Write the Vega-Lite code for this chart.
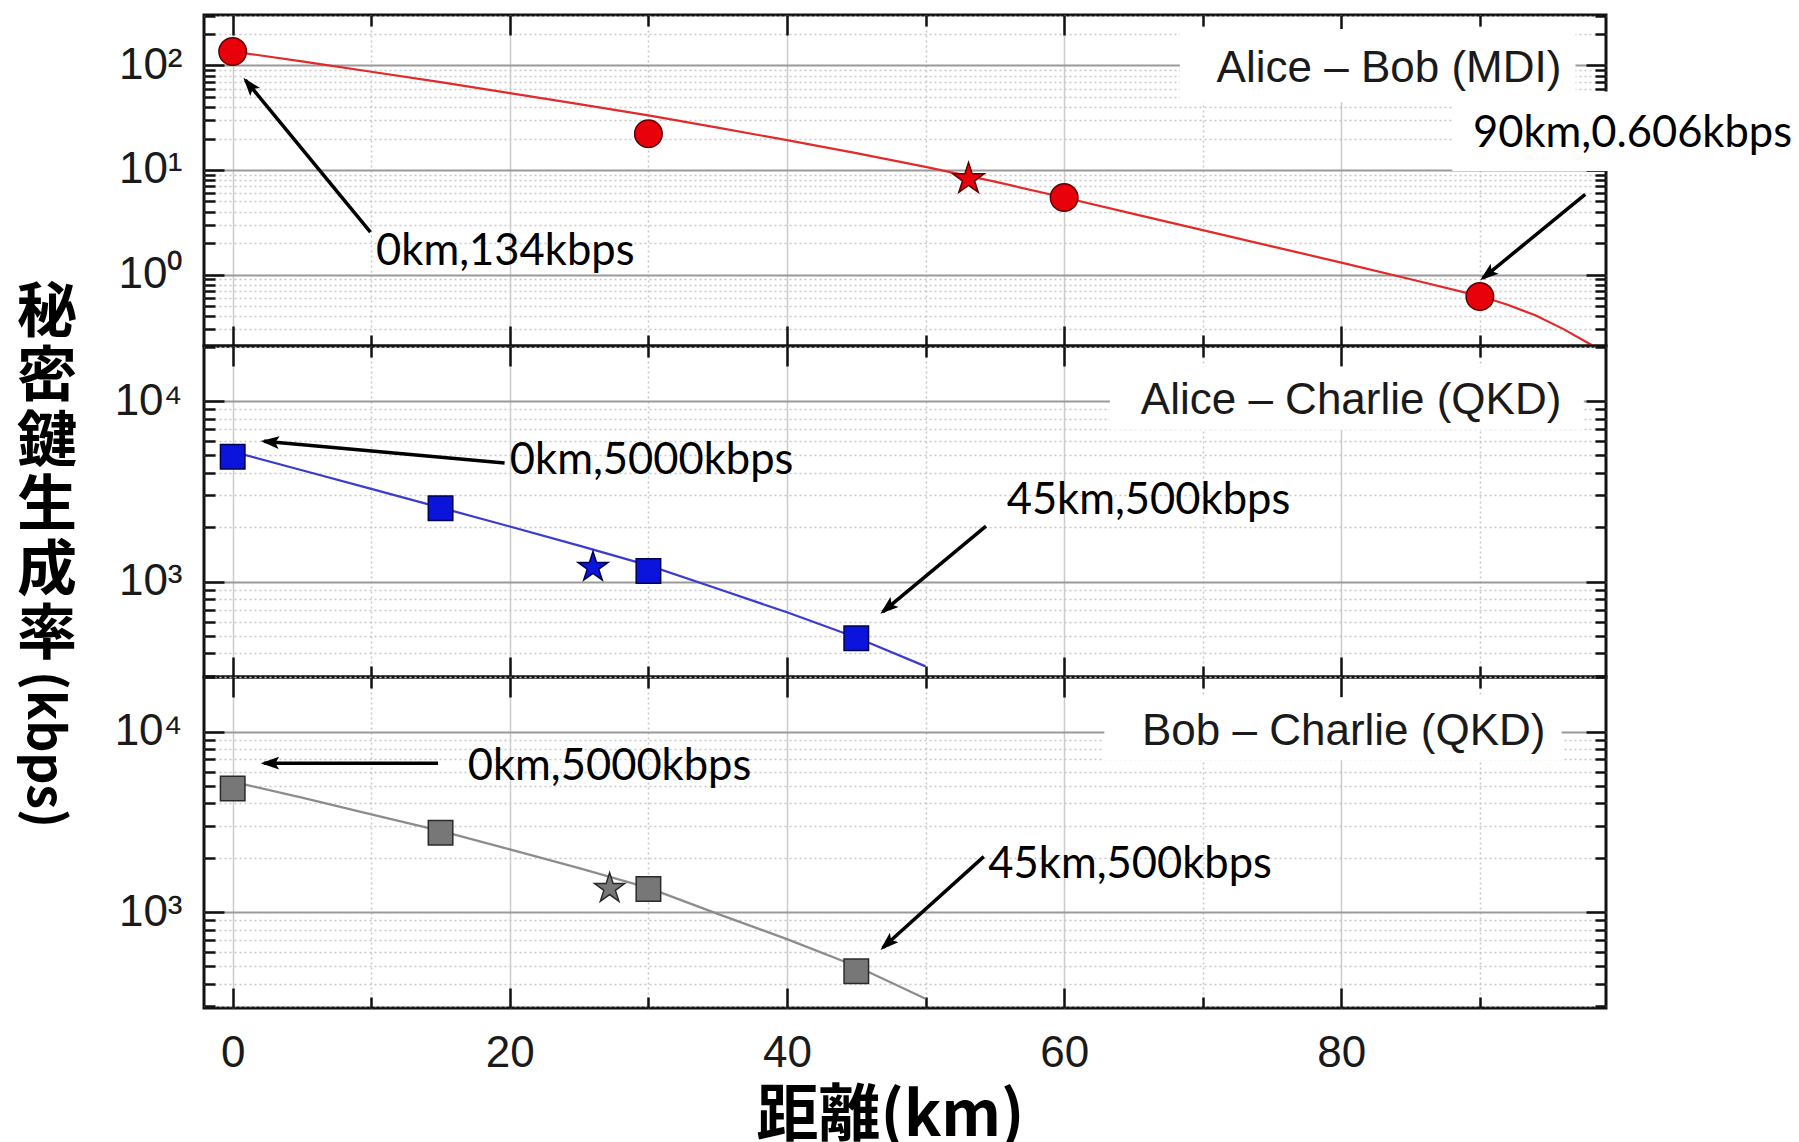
{
  "$schema": "https://vega.github.io/schema/vega-lite/v6.json",
  "background": "white",
  "padding": {"left": 15, "top": 12, "right": 0, "bottom": 0},
  "spacing": 0,
  "bounds": "flush",
  "resolve": {"scale": {"shape": "independent", "size": "independent"}},
  "config": {
    "view": {"stroke": "#111111", "strokeWidth": 3},
    "axis": {"labelFont": "Liberation Sans", "labelColor": "#1a1a1a", "labelOverlap": false, "labelFlush": false, "labelBound": false, "domain": false, "tickColor": "#111111", "tickWidth": 2.5}
  },
  "datasets": {
    "lineA": [
      {"d": 0, "r": 136.1}, {"d": 5, "r": 109.6}, {"d": 10, "r": 87.1}, {"d": 15, "r": 69.2}, {"d": 20, "r": 54.3},
      {"d": 25, "r": 42.7}, {"d": 30, "r": 33.3}, {"d": 35, "r": 25.4}, {"d": 40, "r": 19.3}, {"d": 45, "r": 14.5},
      {"d": 50, "r": 10.7}, {"d": 55, "r": 7.73}, {"d": 60, "r": 5.45}, {"d": 65, "r": 3.8}, {"d": 70, "r": 2.66},
      {"d": 75, "r": 1.86}, {"d": 80, "r": 1.3}, {"d": 85, "r": 0.9}, {"d": 90, "r": 0.622}, {"d": 92, "r": 0.513},
      {"d": 94, "r": 0.407}, {"d": 96, "r": 0.302}, {"d": 98, "r": 0.214}, {"d": 99, "r": 0.174}
    ],
    "lineB": [
      {"d": 0, "r": 5250}, {"d": 5, "r": 4140}, {"d": 10, "r": 3266}, {"d": 15, "r": 2570}, {"d": 20, "r": 2018},
      {"d": 25, "r": 1581}, {"d": 30, "r": 1230}, {"d": 35, "r": 912}, {"d": 40, "r": 676}, {"d": 45, "r": 490}, {"d": 50, "r": 339}
    ],
    "lineC": [
      {"d": 0, "r": 5280}, {"d": 5, "r": 4300}, {"d": 10, "r": 3475}, {"d": 15, "r": 2818}, {"d": 20, "r": 2223},
      {"d": 25, "r": 1750}, {"d": 30, "r": 1361}, {"d": 35, "r": 977}, {"d": 40, "r": 708}, {"d": 45, "r": 501}, {"d": 50, "r": 331}
    ],
    "ptsA": [
      {"d": 0, "r": 136, "kind": "meas"}, {"d": 30, "r": 22.2, "kind": "meas"}, {"d": 60, "r": 5.46, "kind": "meas"},
      {"d": 90, "r": 0.615, "kind": "meas"}, {"d": 53.1, "r": 8.2, "kind": "star"}
    ],
    "ptsB": [
      {"d": 0, "r": 4920, "kind": "meas"}, {"d": 15, "r": 2550, "kind": "meas"}, {"d": 30, "r": 1146, "kind": "meas"},
      {"d": 45, "r": 485, "kind": "meas"}, {"d": 26.0, "r": 1200, "kind": "star"}
    ],
    "ptsC": [
      {"d": 0, "r": 4840, "kind": "meas"}, {"d": 15, "r": 2750, "kind": "meas"}, {"d": 30, "r": 1340, "kind": "meas"},
      {"d": 45, "r": 470, "kind": "meas"}, {"d": 27.2, "r": 1350, "kind": "star"}
    ],
    "boxA": [{"x0": 68.35, "x1": 96.9, "y0": 44.4, "y1": 223}, {"x0": 88.0, "x1": 112.9, "y0": 9.8, "y1": 56.5}],
    "boxB": [{"x0": 63.3, "x1": 97.5, "y0": 6930, "y1": 15500}],
    "boxC": [{"x0": 62.9, "x1": 95.9, "y0": 6930, "y1": 15500}],
    "annA": [{"x": 10.35, "y": 1.65, "t": "0km,134kbps"}, {"x": 89.5, "y": 22.3, "t": "90km,0.606kbps"}],
    "annB": [{"x": 20.0, "y": 4677, "t": "0km,5000kbps"}, {"x": 55.85, "y": 2804, "t": "45km,500kbps"}],
    "annC": [{"x": 16.96, "y": 6396, "t": "0km,5000kbps"}, {"x": 54.53, "y": 1830, "t": "45km,500kbps"}],
    "legA": [{"x": 95.88, "y": 93, "t": "Alice – Bob (MDI)"}],
    "legB": [{"x": 95.88, "y": 10000, "t": "Alice – Charlie (QKD)"}],
    "legC": [{"x": 94.73, "y": 10000, "t": "Bob – Charlie (QKD)"}],
    "arrA": [{"x0": 9.94, "y0": 2.54, "x1": 0.92, "y1": 72.3, "ang": 320.5}, {"x0": 97.6, "y0": 5.83, "x1": 90.2, "y1": 0.92, "ang": 231.3}],
    "arrB": [{"x0": 19.62, "y0": 4540, "x1": 2.25, "y1": 5998, "ang": 275.2}, {"x0": 54.36, "y0": 2031, "x1": 46.91, "y1": 680, "ang": 230.2}],
    "arrC": [{"x0": 14.82, "y0": 6683, "x1": 2.25, "y1": 6683, "ang": 270}, {"x0": 54.2, "y0": 2028, "x1": 46.91, "y1": 634, "ang": 227.7}]
  },
  "vconcat": [
    {
      "width": 1402, "height": 331,
      "resolve": {"axis": {"x": "independent", "y": "independent"}},
      "layer": [
        {"data": {"name": "boxA"}, "mark": {"type": "rect", "fill": "white", "strokeWidth": 0},
         "encoding": {"x": {"field": "x0", "type": "quantitative", "scale": {"domain": [-2.07, 99.1], "nice": false, "zero": false},
                            "axis": {"orient": "bottom", "values": [10,30,50,70,90], "labels": false, "tickSize": -11, "grid": true, "gridColor": "#c8c8c8", "gridDash": [2, 3], "gridWidth": 1.5, "title": null}},
                      "x2": {"field": "x1"},
                      "y": {"field": "y0", "type": "quantitative", "scale": {"type": "log", "domain": [0.207, 304], "nice": false},
                            "axis": {"orient": "left", "values": [0.3,0.4,0.5,0.6,0.7,0.8,0.9,2,3,4,5,6,7,8,9,20,30,40,50,60,70,80,90,200,300], "labels": false, "tickSize": -11, "grid": true, "gridColor": "#c8c8c8", "gridDash": [2, 3], "gridWidth": 1.5, "title": null}},
                      "y2": {"field": "y1"}}},
        {"data": {"name": "lineA"}, "mark": {"type": "line", "color": "#e22a2a", "strokeWidth": 2.2, "clip": true},
         "encoding": {
           "x": {"field": "d", "type": "quantitative", "scale": {"domain": [-2.07, 99.1], "nice": false, "zero": false},
                 "axis": {"orient": "bottom", "values": [0,20,40,60,80], "labels": false, "tickSize": -20, "grid": true, "gridColor": "#cccccc", "gridWidth": 1.5, "title": null}},
           "y": {"field": "r", "type": "quantitative", "scale": {"type": "log", "domain": [0.207, 304], "nice": false},
                 "axis": {"orient": "left", "values": [1, 10, 100], "labelExpr": "datum.value == 1 ? '10⁰' : datum.value == 10 ? '10¹' : '10²'",
                          "labelFontSize": 44, "labelPadding": 42, "tickSize": -20, "grid": true, "gridColor": "#9a9a9a", "gridWidth": 2, "title": null}}}},
        {"data": {"name": "ptsA"}, "mark": {"type": "point", "filled": true, "fill": "#e8000b", "stroke": "#5c0000", "strokeWidth": 1.5, "opacity": 1},
         "encoding": {
           "x": {"field": "d", "type": "quantitative", "scale": {"domain": [-2.07, 99.1], "nice": false, "zero": false},
                 "axis": {"orient": "top", "values": [0,20,40,60,80], "labels": false, "grid": false, "tickSize": -20, "title": null}},
           "y": {"field": "r", "type": "quantitative", "scale": {"type": "log", "domain": [0.207, 304], "nice": false},
                 "axis": {"orient": "right", "values": [1, 10, 100], "labels": false, "grid": false, "tickSize": -20, "title": null}},
           "shape": {"field": "kind", "type": "nominal", "scale": {"domain": ["meas", "star"], "range": ["circle", "M0,-1L0.2245,-0.309L0.951,-0.309L0.3633,0.118L0.588,0.809L0,0.382L-0.588,0.809L-0.3633,0.118L-0.951,-0.309L-0.2245,-0.309Z"]}, "legend": null},
           "size": {"field": "kind", "type": "nominal", "scale": {"domain": ["meas", "star"], "range": [760, 1100]}, "legend": null}}},
        {"data": {"name": "annA"}, "mark": {"type": "text", "font": "Lato", "fontSize": 43.5, "align": "left", "baseline": "middle", "color": "#000"},
         "encoding": {"x": {"field": "x", "type": "quantitative", "scale": {"domain": [-2.07, 99.1], "nice": false, "zero": false},
                            "axis": {"orient": "top", "values": [10,30,50,70,90], "labels": false, "grid": false, "tickSize": -11, "title": null}},
                      "y": {"field": "y", "type": "quantitative", "scale": {"type": "log", "domain": [0.207, 304], "nice": false},
                            "axis": {"orient": "right", "values": [0.3,0.4,0.5,0.6,0.7,0.8,0.9,2,3,4,5,6,7,8,9,20,30,40,50,60,70,80,90,200,300], "labels": false, "grid": false, "tickSize": -11, "title": null}},
                      "text": {"field": "t"}}},
        {"data": {"name": "legA"}, "mark": {"type": "text", "font": "Liberation Sans", "fontSize": 44, "align": "right", "baseline": "middle", "color": "#1a1a1a"},
         "encoding": {"x": {"field": "x", "type": "quantitative", "scale": {"domain": [-2.07, 99.1], "nice": false, "zero": false}, "axis": null},
                      "y": {"field": "y", "type": "quantitative", "scale": {"type": "log", "domain": [0.207, 304], "nice": false}, "axis": null}, "text": {"field": "t"}}},
        {"data": {"name": "arrA"}, "mark": {"type": "rule", "color": "#000", "strokeWidth": 3.5},
         "encoding": {"x": {"field": "x0", "type": "quantitative", "scale": {"domain": [-2.07, 99.1], "nice": false, "zero": false}, "axis": null}, "x2": {"field": "x1"},
                      "y": {"field": "y0", "type": "quantitative", "scale": {"type": "log", "domain": [0.207, 304], "nice": false}, "axis": null}, "y2": {"field": "y1"}}},
        {"data": {"name": "arrA"}, "mark": {"type": "point", "shape": "M0,-0.25L-0.5,1.2L0,0.9L0.5,1.2Z", "filled": true, "color": "#000", "size": 650, "opacity": 1},
         "encoding": {"x": {"field": "x1", "type": "quantitative", "scale": {"domain": [-2.07, 99.1], "nice": false, "zero": false}, "axis": null},
                      "y": {"field": "y1", "type": "quantitative", "scale": {"type": "log", "domain": [0.207, 304], "nice": false}, "axis": null},
                      "angle": {"field": "ang", "type": "quantitative", "scale": null}}}
      ]
    },
    {
      "width": 1402, "height": 331,
      "resolve": {"axis": {"x": "independent", "y": "independent"}},
      "layer": [
        {"data": {"name": "boxB"}, "mark": {"type": "rect", "fill": "white", "strokeWidth": 0},
         "encoding": {"x": {"field": "x0", "type": "quantitative", "scale": {"domain": [-2.07, 99.1], "nice": false, "zero": false},
                            "axis": {"orient": "bottom", "values": [10,30,50,70,90], "labels": false, "tickSize": -11, "grid": true, "gridColor": "#c8c8c8", "gridDash": [2, 3], "gridWidth": 1.5, "title": null}},
                      "x2": {"field": "x1"},
                      "y": {"field": "y0", "type": "quantitative", "scale": {"type": "log", "domain": [296, 20200], "nice": false},
                            "axis": {"orient": "left", "values": [300,400,500,600,700,800,900,2000,3000,4000,5000,6000,7000,8000,9000,20000], "labels": false, "tickSize": -11, "grid": true, "gridColor": "#c8c8c8", "gridDash": [2, 3], "gridWidth": 1.5, "title": null}},
                      "y2": {"field": "y1"}}},
        {"data": {"name": "lineB"}, "mark": {"type": "line", "color": "#3b3bd0", "strokeWidth": 2.2, "clip": true},
         "encoding": {
           "x": {"field": "d", "type": "quantitative", "scale": {"domain": [-2.07, 99.1], "nice": false, "zero": false},
                 "axis": {"orient": "bottom", "values": [0,20,40,60,80], "labels": false, "tickSize": -20, "grid": true, "gridColor": "#cccccc", "gridWidth": 1.5, "title": null}},
           "y": {"field": "r", "type": "quantitative", "scale": {"type": "log", "domain": [296, 20200], "nice": false},
                 "axis": {"orient": "left", "values": [1000, 10000], "labelExpr": "datum.value == 1000 ? '10³' : '10⁴'",
                          "labelFontSize": 44, "labelPadding": 42, "tickSize": -20, "grid": true, "gridColor": "#9a9a9a", "gridWidth": 2,
                          "title": ["秘", "密", "鍵", "生", "成", "率"], "titleAngle": 0, "titleFont": "Noto Sans CJK JP", "titleFontWeight": "bold", "titleFontSize": 60,
                          "titleLineHeight": 64.5, "titleColor": "#000", "titleAlign": "center", "titleBaseline": "middle", "titleX": -157.5, "titleY": -33}}}},
        {"data": {"name": "ptsB"}, "mark": {"type": "point", "filled": true, "fill": "#0a14dc", "stroke": "#000050", "strokeWidth": 1.5, "opacity": 1},
         "encoding": {
           "x": {"field": "d", "type": "quantitative", "scale": {"domain": [-2.07, 99.1], "nice": false, "zero": false},
                 "axis": {"orient": "top", "values": [0,20,40,60,80], "labels": false, "grid": false, "tickSize": -20, "title": null}},
           "y": {"field": "r", "type": "quantitative", "scale": {"type": "log", "domain": [296, 20200], "nice": false},
                 "axis": {"orient": "right", "values": [1000, 10000], "labels": false, "grid": false, "tickSize": -20, "title": null}},
           "shape": {"field": "kind", "type": "nominal", "scale": {"domain": ["meas", "star"], "range": ["square", "M0,-1L0.2245,-0.309L0.951,-0.309L0.3633,0.118L0.588,0.809L0,0.382L-0.588,0.809L-0.3633,0.118L-0.951,-0.309L-0.2245,-0.309Z"]}, "legend": null},
           "size": {"field": "kind", "type": "nominal", "scale": {"domain": ["meas", "star"], "range": [600, 1000]}, "legend": null}}},
        {"data": {"name": "annB"}, "mark": {"type": "text", "font": "Lato", "fontSize": 43.5, "align": "left", "baseline": "middle", "color": "#000"},
         "encoding": {"x": {"field": "x", "type": "quantitative", "scale": {"domain": [-2.07, 99.1], "nice": false, "zero": false},
                            "axis": {"orient": "top", "values": [10,30,50,70,90], "labels": false, "grid": false, "tickSize": -11, "title": null}},
                      "y": {"field": "y", "type": "quantitative", "scale": {"type": "log", "domain": [296, 20200], "nice": false},
                            "axis": {"orient": "right", "values": [300,400,500,600,700,800,900,2000,3000,4000,5000,6000,7000,8000,9000,20000], "labels": false, "grid": false, "tickSize": -11, "title": null}},
                      "text": {"field": "t"}}},
        {"data": {"name": "legB"}, "mark": {"type": "text", "font": "Liberation Sans", "fontSize": 44, "align": "right", "baseline": "middle", "color": "#1a1a1a"},
         "encoding": {"x": {"field": "x", "type": "quantitative", "scale": {"domain": [-2.07, 99.1], "nice": false, "zero": false}, "axis": null},
                      "y": {"field": "y", "type": "quantitative", "scale": {"type": "log", "domain": [296, 20200], "nice": false}, "axis": null}, "text": {"field": "t"}}},
        {"data": {"name": "arrB"}, "mark": {"type": "rule", "color": "#000", "strokeWidth": 3.5},
         "encoding": {"x": {"field": "x0", "type": "quantitative", "scale": {"domain": [-2.07, 99.1], "nice": false, "zero": false}, "axis": null}, "x2": {"field": "x1"},
                      "y": {"field": "y0", "type": "quantitative", "scale": {"type": "log", "domain": [296, 20200], "nice": false}, "axis": null}, "y2": {"field": "y1"}}},
        {"data": {"name": "arrB"}, "mark": {"type": "point", "shape": "M0,-0.25L-0.5,1.2L0,0.9L0.5,1.2Z", "filled": true, "color": "#000", "size": 650, "opacity": 1},
         "encoding": {"x": {"field": "x1", "type": "quantitative", "scale": {"domain": [-2.07, 99.1], "nice": false, "zero": false}, "axis": null},
                      "y": {"field": "y1", "type": "quantitative", "scale": {"type": "log", "domain": [296, 20200], "nice": false}, "axis": null},
                      "angle": {"field": "ang", "type": "quantitative", "scale": null}}}
      ]
    },
    {
      "width": 1402, "height": 331,
      "resolve": {"axis": {"x": "independent", "y": "independent"}},
      "layer": [
        {"data": {"name": "boxC"}, "mark": {"type": "rect", "fill": "white", "strokeWidth": 0},
         "encoding": {"x": {"field": "x0", "type": "quantitative", "scale": {"domain": [-2.07, 99.1], "nice": false, "zero": false},
                            "axis": {"orient": "bottom", "values": [10,30,50,70,90], "labels": false, "tickSize": -11, "grid": true, "gridColor": "#c8c8c8", "gridDash": [2, 3], "gridWidth": 1.5, "title": null}},
                      "x2": {"field": "x1"},
                      "y": {"field": "y0", "type": "quantitative", "scale": {"type": "log", "domain": [294, 20050], "nice": false},
                            "axis": {"orient": "left", "values": [300,400,500,600,700,800,900,2000,3000,4000,5000,6000,7000,8000,9000,20000], "labels": false, "tickSize": -11, "grid": true, "gridColor": "#c8c8c8", "gridDash": [2, 3], "gridWidth": 1.5, "title": null}},
                      "y2": {"field": "y1"}}},
        {"data": {"name": "lineC"}, "mark": {"type": "line", "color": "#8c8c8c", "strokeWidth": 2.2, "clip": true},
         "encoding": {
           "x": {"field": "d", "type": "quantitative", "scale": {"domain": [-2.07, 99.1], "nice": false, "zero": false},
                 "axis": {"orient": "bottom", "values": [0,20,40,60,80], "format": "d", "labelFontSize": 44, "labelPadding": 43,
                          "tickSize": -20, "grid": true, "gridColor": "#cccccc", "gridWidth": 1.5,
                          "title": "距離(km)", "titleFont": "Noto Sans CJK JP", "titleFontWeight": "bold", "titleFontSize": 62, "titleColor": "#000",
                          "titleAlign": "center", "titleBaseline": "middle", "titleX": 686, "titleY": 108}},
           "y": {"field": "r", "type": "quantitative", "scale": {"type": "log", "domain": [294, 20050], "nice": false},
                 "axis": {"orient": "left", "values": [1000, 10000], "labelExpr": "datum.value == 1000 ? '10³' : '10⁴'",
                          "labelFontSize": 44, "labelPadding": 42, "tickSize": -20, "grid": true, "gridColor": "#9a9a9a", "gridWidth": 2,
                          "title": "(kbps)", "titleAngle": 90, "titleFont": "Noto Sans CJK JP", "titleFontWeight": "bold", "titleFontSize": 50, "titleColor": "#000",
                          "titleAlign": "center", "titleBaseline": "middle", "titleX": -161.5, "titleY": 72}}}},
        {"data": {"name": "ptsC"}, "mark": {"type": "point", "filled": true, "fill": "#777777", "stroke": "#2a2a2a", "strokeWidth": 1.5, "opacity": 1},
         "encoding": {
           "x": {"field": "d", "type": "quantitative", "scale": {"domain": [-2.07, 99.1], "nice": false, "zero": false},
                 "axis": {"orient": "top", "values": [0,20,40,60,80], "labels": false, "grid": false, "tickSize": -20, "title": null}},
           "y": {"field": "r", "type": "quantitative", "scale": {"type": "log", "domain": [294, 20050], "nice": false},
                 "axis": {"orient": "right", "values": [1000, 10000], "labels": false, "grid": false, "tickSize": -20, "title": null}},
           "shape": {"field": "kind", "type": "nominal", "scale": {"domain": ["meas", "star"], "range": ["square", "M0,-1L0.2245,-0.309L0.951,-0.309L0.3633,0.118L0.588,0.809L0,0.382L-0.588,0.809L-0.3633,0.118L-0.951,-0.309L-0.2245,-0.309Z"]}, "legend": null},
           "size": {"field": "kind", "type": "nominal", "scale": {"domain": ["meas", "star"], "range": [600, 1000]}, "legend": null}}},
        {"data": {"name": "annC"}, "mark": {"type": "text", "font": "Lato", "fontSize": 43.5, "align": "left", "baseline": "middle", "color": "#000"},
         "encoding": {"x": {"field": "x", "type": "quantitative", "scale": {"domain": [-2.07, 99.1], "nice": false, "zero": false},
                            "axis": {"orient": "top", "values": [10,30,50,70,90], "labels": false, "grid": false, "tickSize": -11, "title": null}},
                      "y": {"field": "y", "type": "quantitative", "scale": {"type": "log", "domain": [294, 20050], "nice": false},
                            "axis": {"orient": "right", "values": [300,400,500,600,700,800,900,2000,3000,4000,5000,6000,7000,8000,9000,20000], "labels": false, "grid": false, "tickSize": -11, "title": null}},
                      "text": {"field": "t"}}},
        {"data": {"name": "legC"}, "mark": {"type": "text", "font": "Liberation Sans", "fontSize": 44, "align": "right", "baseline": "middle", "color": "#1a1a1a"},
         "encoding": {"x": {"field": "x", "type": "quantitative", "scale": {"domain": [-2.07, 99.1], "nice": false, "zero": false}, "axis": null},
                      "y": {"field": "y", "type": "quantitative", "scale": {"type": "log", "domain": [294, 20050], "nice": false}, "axis": null}, "text": {"field": "t"}}},
        {"data": {"name": "arrC"}, "mark": {"type": "rule", "color": "#000", "strokeWidth": 3.5},
         "encoding": {"x": {"field": "x0", "type": "quantitative", "scale": {"domain": [-2.07, 99.1], "nice": false, "zero": false}, "axis": null}, "x2": {"field": "x1"},
                      "y": {"field": "y0", "type": "quantitative", "scale": {"type": "log", "domain": [294, 20050], "nice": false}, "axis": null}, "y2": {"field": "y1"}}},
        {"data": {"name": "arrC"}, "mark": {"type": "point", "shape": "M0,-0.25L-0.5,1.2L0,0.9L0.5,1.2Z", "filled": true, "color": "#000", "size": 650, "opacity": 1},
         "encoding": {"x": {"field": "x1", "type": "quantitative", "scale": {"domain": [-2.07, 99.1], "nice": false, "zero": false}, "axis": null},
                      "y": {"field": "y1", "type": "quantitative", "scale": {"type": "log", "domain": [294, 20050], "nice": false}, "axis": null},
                      "angle": {"field": "ang", "type": "quantitative", "scale": null}}}
      ]
    }
  ]
}
